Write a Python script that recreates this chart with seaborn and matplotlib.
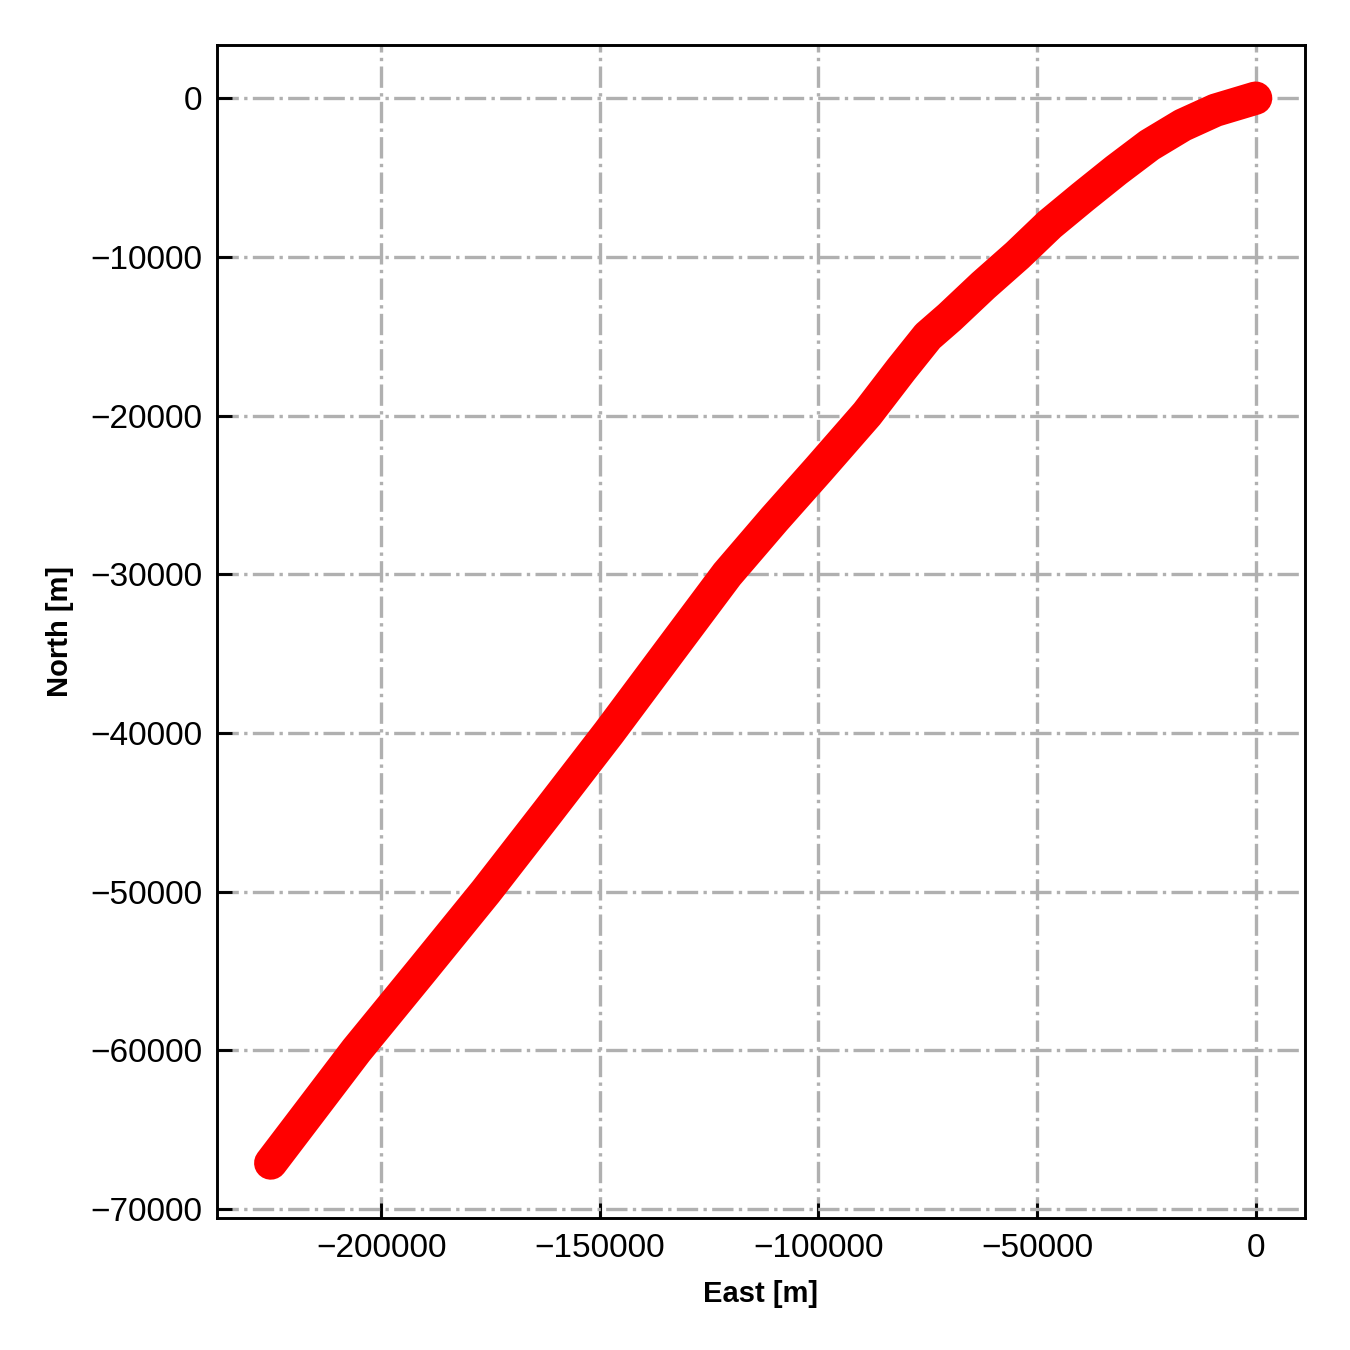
import matplotlib
matplotlib.use("Agg")
import matplotlib.pyplot as plt
import seaborn as sns
import pandas as pd

# trajectory (metres)
east = [0, -9200, -16700, -24300, -31900, -39500, -47100, -54500, -62300,
        -70000, -75000, -81100, -88900, -100000, -110000, -120900,
        -134200, -148000, -162000, -176100, -191000, -205700, -225300]
north = [0, -760, -1700, -2960, -4540, -6220, -7950, -9900, -11800,
         -13800, -15000, -17100, -19900, -23400, -26500, -30000,
         -34900, -40000, -45000, -50000, -55050, -60000, -67100]

df = pd.DataFrame({"East": east, "North": north})

sns.set_style("white")
plt.rcParams['font.family'] = ['Liberation Sans', 'DejaVu Sans']
plt.rcParams['axes.unicode_minus'] = True

fig = plt.figure(figsize=(4.5, 4.5), dpi=300)
ax = fig.add_axes([0.1607, 0.0978, 0.806, 0.869])

sns.lineplot(data=df, x="East", y="North", sort=False, estimator=None,
             color="red", linewidth=8, solid_capstyle="round",
             solid_joinstyle="round", ax=ax)

ax.set_xlim(-237600, 11300)
ax.set_ylim(-70560, 3360)
ax.set_xticks([-200000, -150000, -100000, -50000, 0])
ax.set_yticks([0, -10000, -20000, -30000, -40000, -50000, -60000, -70000])

ax.grid(True, linestyle="-.", color="#b0b0b0", linewidth=0.8)
ax.set_axisbelow(True)
ax.tick_params(direction="in", length=3.5, width=0.7, labelsize=8,
               colors="black", left=True, bottom=True)
for s in ax.spines.values():
    s.set_color("black")
    s.set_linewidth(0.7)

ax.set_xlabel("East [m]", fontsize=7, fontweight="bold", color="black")
ax.set_ylabel("North [m]", fontsize=7, fontweight="bold", color="black")

fig.savefig("out.png", dpi=300)
